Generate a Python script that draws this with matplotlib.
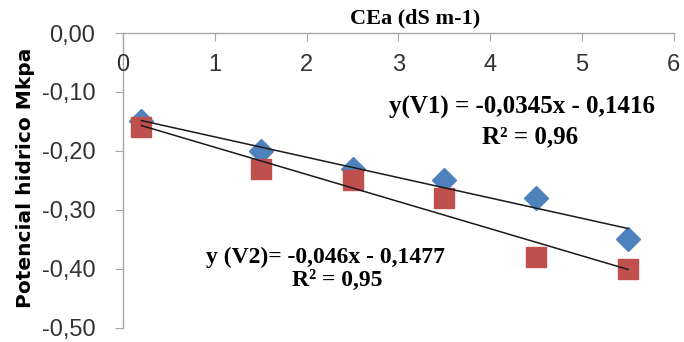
import numpy as np
import matplotlib
matplotlib.use("Agg")
import matplotlib.pyplot as plt
from matplotlib.ticker import FuncFormatter

# data
cea = [0.2, 1.5, 2.5, 3.5, 4.5, 5.5]
v1 = [-0.15, -0.20, -0.23, -0.25, -0.28, -0.35]
v2 = [-0.16, -0.23, -0.25, -0.28, -0.38, -0.40]

# trendline coefficients printed on the chart
fit_v1 = (-0.0345, -0.1416)
fit_v2 = (-0.046, -0.1477)

x_ticks = [0, 1, 2, 3, 4, 5, 6]
y_ticks = [0.0, -0.1, -0.2, -0.3, -0.4, -0.5]

blue = "#4F81BD"
red = "#C0504D"
grey = "#A6A6A6"

fig = plt.figure(figsize=(6.84, 3.42), dpi=100)
ax = fig.add_axes([0.18, 0.041, 0.805, 0.8625])

xl = np.array([cea[0], cea[-1]])
ax.plot(xl, fit_v1[0] * xl + fit_v1[1], color="#1a1a1a", lw=1.1, zorder=3)
ax.plot(xl, fit_v2[0] * xl + fit_v2[1], color="#1a1a1a", lw=1.1, zorder=3)
ax.plot(cea, v1, "D", color=blue, ms=12.5, mec=blue, zorder=2)
ax.plot(cea, v2, "s", color=red, ms=15, mec=red, zorder=2)

ax.set_xlim(0, 6)
ax.set_ylim(-0.5, 0.0)
ax.set_xticks(x_ticks)
ax.set_yticks(y_ticks)

comma = FuncFormatter(lambda v, p: ("%.2f" % v).replace(".", ",").replace("-0,00", "0,00"))
ax.yaxis.set_major_formatter(comma)

for s in ["right", "bottom"]:
    ax.spines[s].set_visible(False)
for s in ["left", "top"]:
    ax.spines[s].set_color(grey)
    ax.spines[s].set_linewidth(1.0)

ax.xaxis.set_ticks_position("top")
ax.tick_params(axis="x", direction="in", length=6, color=grey, labeltop=False,
               labelbottom=False)
ax.tick_params(axis="y", direction="out", length=6, color=grey,
               labelsize=17, labelcolor="#333333", pad=14)
for lab in ax.get_yticklabels():
    lab.set_family("Liberation Sans")

# x tick labels sit just below the top axis line
for t in x_ticks:
    ax.text(t, -0.054, str(t), ha="center", va="center", fontsize=17,
            family="Liberation Sans", color="#333333")

fig.text(0.607, 0.945, "CEa (dS m-1)", ha="center", va="center", fontsize=16,
         family="Liberation Serif", weight="bold")
fig.text(0.038, 0.48, "Potencial hidrico Mkpa", rotation=90, ha="center",
         va="center", fontsize=14.5, family="DejaVu Sans", weight="bold")

serif = dict(family="Liberation Serif", weight="bold")
ax.text(0.724, -0.127, "y(V1) = -0,0345x - 0,1416", ha="center", va="center",
        fontsize=18, **serif)
ax.text(0.739, -0.176, "R² = 0,96", ha="center", va="center", fontsize=18, **serif)
ax.text(0.368, -0.38, "y (V2)= -0,046x - 0,1477", ha="center", va="center",
        fontsize=17, **serif)
ax.text(0.388, -0.419, "R² = 0,95", ha="center", va="center", fontsize=17, **serif)
for t in ax.texts[-4:]:
    t.set_transform(ax.get_yaxis_transform())

fig.savefig("out.png", dpi=100)
